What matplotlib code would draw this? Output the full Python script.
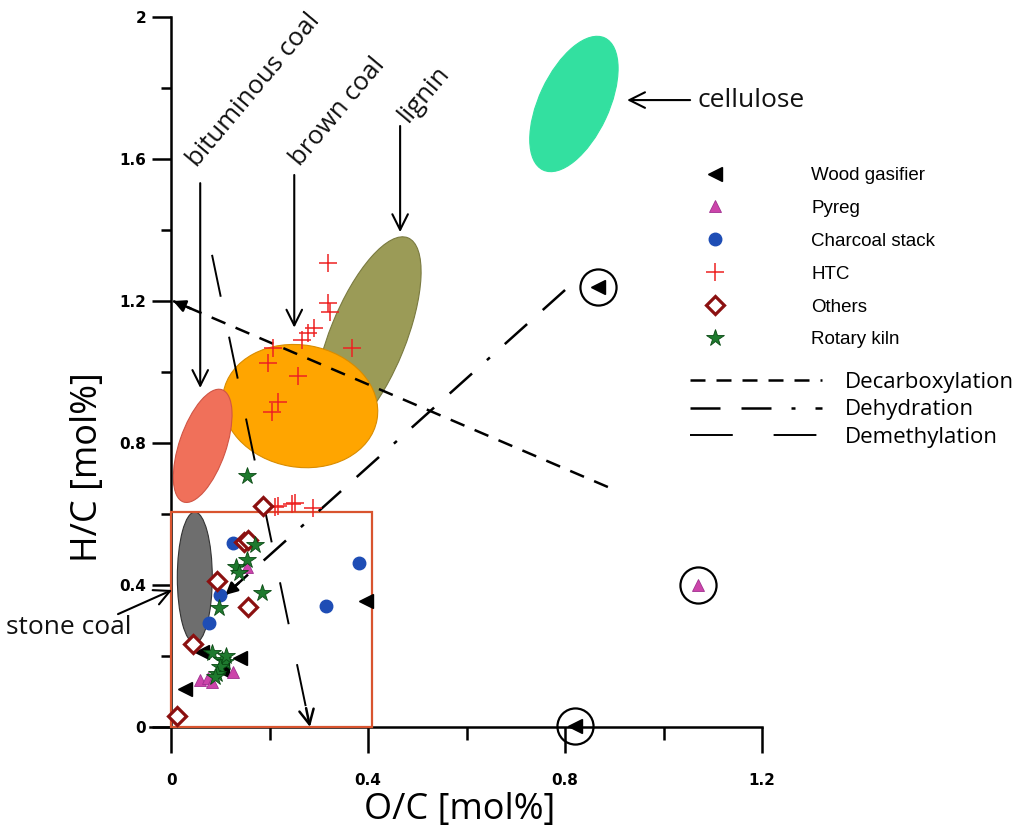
import matplotlib
matplotlib.use("Agg")
import matplotlib.pyplot as plt
from matplotlib.patches import Ellipse, Rectangle
from matplotlib.lines import Line2D
from matplotlib.transforms import Affine2D

plt.rcParams['font.family'] = ['Open Sans', 'DejaVu Sans']

# ---------------- data ----------------
wood_x = [0.867, 0.396, 0.062, 0.139, 0.028, 0.103, 0.820]
wood_y = [1.239, 0.355, 0.212, 0.195, 0.107, 0.160, 0.003]
pyreg_x = [1.070, 0.059, 0.075, 0.083, 0.126, 0.154]
pyreg_y = [0.400, 0.132, 0.138, 0.127, 0.155, 0.450]
charcoal_x = [0.126, 0.382, 0.315, 0.077, 0.100]
charcoal_y = [0.518, 0.462, 0.341, 0.293, 0.372]
htc_x = [0.319, 0.319, 0.323, 0.290, 0.278, 0.266, 0.207, 0.367, 0.197, 0.258,
         0.217, 0.205, 0.211, 0.217, 0.246, 0.252, 0.288]
htc_y = [1.307, 1.194, 1.169, 1.124, 1.110, 1.090, 1.067, 1.067, 1.025, 0.990,
         0.915, 0.887, 0.620, 0.623, 0.628, 0.630, 0.617]
others_x = [0.187, 0.148, 0.156, 0.093, 0.156, 0.045, 0.012]
others_y = [0.623, 0.521, 0.527, 0.410, 0.338, 0.234, 0.031]
kiln_x = [0.154, 0.171, 0.154, 0.132, 0.138, 0.185, 0.098, 0.083, 0.104, 0.110,
          0.100, 0.094, 0.089, 0.112]
kiln_y = [0.707, 0.513, 0.470, 0.450, 0.433, 0.378, 0.335, 0.208, 0.189, 0.183,
          0.168, 0.150, 0.140, 0.200]

# highlighted (circled) points
circled_x = [wood_x[0], wood_x[6], pyreg_x[0]]
circled_y = [wood_y[0], wood_y[6], pyreg_y[0]]

# material regions: name, centre x, centre y, major, minor (O/C units), angle, colour, edge
region_names = ['cellulose', 'lignin', 'brown coal', 'bituminous coal', 'stone coal']
region_cx = [0.818, 0.399, 0.262, 0.064, 0.048]
region_cy = [1.755, 1.097, 0.904, 0.792, 0.421]
region_w = [0.296, 0.437, 0.317, 0.241, 0.266]
region_h = [0.142, 0.154, 0.248, 0.095, 0.071]
region_ang = [65, 68, -10, 71, 90]
region_fc = ['#33E0A0', '#9B9B57', '#FFA500', '#F0705A', '#6E6E6E']
region_ec = ['#33E0A0', '#7A7A40', '#D98C00', '#D05545', '#333333']

# reaction pathways
decarb_x = [0.887, 0.004]
decarb_y = [0.676, 1.200]
dehyd_x = [0.800, 0.110]
dehyd_y = [1.231, 0.372]
demeth_x = [0.083, 0.282]
demeth_y = [1.330, 0.000]

# label arrows (start -> end) and label positions
lab_text = ['bituminous coal', 'brown coal', 'lignin']
lab_tx = [0.052, 0.262, 0.482]
lab_ty = [1.575, 1.578, 1.700]
arr_x0 = [0.059, 0.250, 0.465, 1.054, -0.108]
arr_y0 = [1.532, 1.555, 1.693, 1.766, 0.318]
arr_x1 = [0.059, 0.250, 0.465, 0.926, 0.002]
arr_y1 = [0.955, 1.125, 1.394, 1.766, 0.386]

# inset box
box_x = [0.0, 0.408]
box_y = [0.0, 0.606]

# ---------------- figure ----------------
fig = plt.figure(figsize=(10.24, 8.4), dpi=100)
ax = fig.add_axes([150 / 1024, 1 - 727 / 840, 612 / 1024, 710 / 840])
ax.set_xlim(-0.043, 1.2)
ax.set_ylim(0, 2)

# aspect factor so that ellipses are defined in screen-equivalent units
bb = ax.get_position()
W = bb.width * 1024
H = bb.height * 840
k = (H / 2.0) / (W / 1.243)
etr = Affine2D().scale(1, 1 / k) + ax.transData
for i in range(len(region_names)):
    e = Ellipse((region_cx[i], region_cy[i] * k), region_w[i], region_h[i],
                angle=region_ang[i], facecolor=region_fc[i],
                edgecolor=region_ec[i], lw=0.8, transform=etr, zorder=1)
    ax.add_patch(e)

ax.add_patch(Rectangle((box_x[0], box_y[0]), box_x[1] - box_x[0], box_y[1] - box_y[0],
                       fill=False, edgecolor='#D9542F', lw=1.6, zorder=3, clip_on=False))

# spines / ticks
for s in ['top', 'right']:
    ax.spines[s].set_visible(False)
ax.spines['left'].set_position(('data', 0))
ax.spines['left'].set_bounds(0, 2)
ax.spines['left'].set_linewidth(1.8)
ax.spines['bottom'].set_linewidth(1.8)
ax.set_xticks([0, 0.4, 0.8, 1.2])
ax.set_xticklabels(['0', '0.4', '0.8', '1.2'])
ax.set_xticks([0.2, 0.6, 1.0], minor=True)
ax.set_yticks([0, 0.4, 0.8, 1.2, 1.6, 2.0])
ax.set_yticklabels(['0', '0.4', '0.8', '1.2', '1.6', '2'])
ax.set_yticks([0.2, 0.6, 1.0, 1.4, 1.8], minor=True)
ax.tick_params(which='both', width=1.8, direction='out')
ax.tick_params(axis='x', which='major', length=19, pad=14)
ax.tick_params(axis='x', which='minor', length=9.5)
ax.tick_params(axis='y', which='major', length=14, pad=4)
ax.tick_params(axis='y', which='minor', length=7)
for lab in ax.get_xticklabels() + ax.get_yticklabels():
    lab.set_fontfamily('DejaVu Sans')
    lab.set_fontweight('bold')
    lab.set_fontsize(11)

ax.set_xlabel('O/C [mol%]', fontsize=26)
ax.set_ylabel('H/C [mol%]', fontsize=26)
ax.xaxis.set_label_coords(0.506, -0.092)
ax.yaxis.set_label_coords(-0.072, 0.366)

# reaction lines
l1, = ax.plot(decarb_x, decarb_y, color='black', lw=1.8, zorder=4)
l1.set_dashes([6.0, 4.4])
l2, = ax.plot(dehyd_x, dehyd_y, color='black', lw=1.8, zorder=4)
l2.set_dashes([12, 8.4, 12, 8, 1.6, 8])
l3, = ax.plot(demeth_x, demeth_y, color='black', lw=1.4, zorder=4)
l3.set_dashes([22, 21])


def head(xs, ys, style, ms):
    fx = xs[-1] - 0.04 * (xs[-1] - xs[0])
    fy = ys[-1] - 0.04 * (ys[-1] - ys[0])
    ax.annotate('', xy=(xs[-1], ys[-1]), xytext=(fx, fy),
                arrowprops=dict(arrowstyle=style, color='black', lw=1.8,
                                mutation_scale=ms, shrinkA=0, shrinkB=0),
                zorder=4, annotation_clip=False)


head(decarb_x, decarb_y, '-|>', 18)
head(dehyd_x, dehyd_y, '-|>', 18)
head(demeth_x, demeth_y, '->', 26)

# label arrows
for i in range(len(arr_x0)):
    ax.annotate('', xy=(arr_x1[i], arr_y1[i]), xytext=(arr_x0[i], arr_y0[i]),
                arrowprops=dict(arrowstyle='->', color='black', lw=1.5,
                                mutation_scale=28, shrinkA=0, shrinkB=0),
                zorder=4, annotation_clip=False)

for i in range(len(lab_text)):
    ax.text(lab_tx[i], lab_ty[i], lab_text[i], rotation=50, rotation_mode='anchor',
            ha='left', va='baseline', fontsize=18.5, color='#111111')
ax.text(1.07, 1.766, 'cellulose', ha='left', va='center', fontsize=19, color='#111111')
ax.text(-0.336, 0.280, 'stone coal', ha='left', va='center', fontsize=19,
        color='#111111', clip_on=False)

# scatter series
mk = dict(ls='none', zorder=6, clip_on=False)
ax.plot(wood_x, wood_y, marker='<', ms=10, color='black', **mk)
ax.plot(pyreg_x, pyreg_y, marker='^', ms=9, markerfacecolor='#CC44AA',
        markeredgecolor='#A03090', mew=0.6, **mk)
ax.plot(charcoal_x, charcoal_y, marker='o', ms=9, markerfacecolor='#1E4DB5',
        markeredgecolor='#1E4DB5', **mk)
ax.plot(htc_x, htc_y, marker='+', ms=13, mew=1.1, color='#EE2222', **mk)
ax.plot(others_x, others_y, marker='D', ms=9, markerfacecolor='white',
        markeredgecolor='#8B1010', mew=2.3, **mk)
ax.plot(kiln_x, kiln_y, marker='*', ms=13, markerfacecolor='#1E7A2E',
        markeredgecolor='#0A4A14', mew=0.6, **mk)
ax.plot(circled_x, circled_y, marker='o', ms=26, markerfacecolor='none',
        markeredgecolor='black', mew=1.6, **mk)

# legends
h_mark = [
    Line2D([], [], ls='none', marker='<', ms=10, color='black'),
    Line2D([], [], ls='none', marker='^', ms=9, markerfacecolor='#CC44AA',
           markeredgecolor='#A03090', mew=0.6),
    Line2D([], [], ls='none', marker='o', ms=9, color='#1E4DB5'),
    Line2D([], [], ls='none', marker='+', ms=13, mew=1.1, color='#EE2222'),
    Line2D([], [], ls='none', marker='D', ms=9, markerfacecolor='white',
           markeredgecolor='#8B1010', mew=2.3),
    Line2D([], [], ls='none', marker='*', ms=13, markerfacecolor='#1E7A2E',
           markeredgecolor='#0A4A14', mew=0.6),
]
lab_mark = ['Wood gasifier', 'Pyreg', 'Charcoal stack', 'HTC', 'Others', 'Rotary kiln']
leg1 = ax.legend(h_mark, lab_mark, loc='upper left',
                 bbox_to_anchor=(690 / 1024, 1 - 167 / 840),
                 bbox_transform=fig.transFigure, frameon=False, borderpad=0,
                 borderaxespad=0, handlelength=2.67, handletextpad=3.8,
                 labelspacing=0.84, prop={'family': 'Liberation Sans', 'size': 13.5})
ax.add_artist(leg1)

hl1 = Line2D([], [], color='black', lw=1.8)
hl1.set_dashes([6.0, 4.4])
hl2 = Line2D([], [], color='black', lw=1.8)
hl2.set_dashes([12, 8.4, 12, 8, 1.6, 8])
hl3 = Line2D([], [], color='black', lw=1.4)
hl3.set_dashes([22, 21])
leg2 = ax.legend([hl1, hl2, hl3], ['Decarboxylation', 'Dehydration', 'Demethylation'],
                 loc='upper left', bbox_to_anchor=(690 / 1024, 1 - 372 / 840),
                 bbox_transform=fig.transFigure, frameon=False, borderpad=0,
                 borderaxespad=0, handlelength=5.95, handletextpad=1.0,
                 labelspacing=0.29, prop={'family': 'Open Sans', 'size': 16})

fig.savefig('out.png', dpi=100)
